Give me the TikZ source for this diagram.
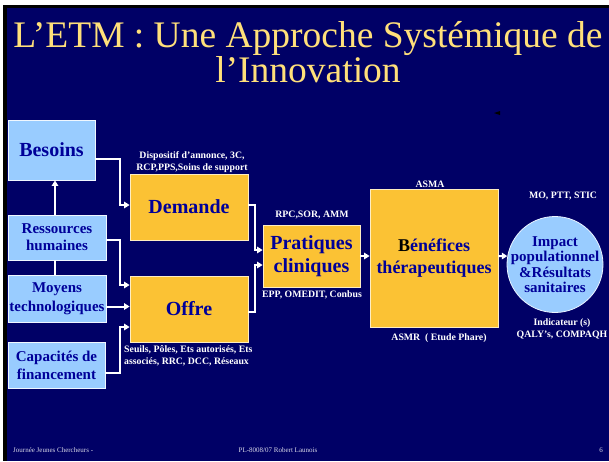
\documentclass[tikz,border=0pt]{standalone}
\usepackage{fontspec}
\setmainfont{Liberation Serif}
\usepackage{xcolor}
\usepackage{tikz}
\usetikzlibrary{shapes,arrows.meta}
\definecolor{slidenavy}{HTML}{000066}
\definecolor{titleyellow}{HTML}{FFE07A}
\definecolor{boxorange}{HTML}{FBC234}
\definecolor{boxblue}{HTML}{99CCFF}
\definecolor{inkblue}{HTML}{000099}
\tikzset{
  bluebox/.style={draw=white!85!boxblue, line width=0.8pt, fill=boxblue, text=inkblue,
    font=\fontsize{15}{17}\selectfont\bfseries, align=center, inner sep=0pt},
  orangebox/.style={draw=white!70!boxorange, line width=0.8pt, fill=boxorange, text=inkblue,
    font=\fontsize{20}{23}\selectfont\bfseries, align=center, inner sep=0pt},
  note/.style={text=white, font=\fontsize{9.8}{12}\selectfont\bfseries, align=center, inner sep=0pt},
  arr/.style={draw=white, line width=2pt, -{Triangle[length=5.5pt,width=6.5pt]}},
  link/.style={draw=white, line width=2pt}
}
\begin{document}
\begin{tikzpicture}[x=1pt,y=-1pt]
      % Slide background
      \useasboundingbox (0,0) rectangle (609,461);
      \fill[white] (0,0) rectangle (609,461);
      \fill[black] (3,5) rectangle (609,461);
      \fill[slidenavy] (7,8) rectangle (609,461);
      \node[text=titleyellow, font=\fontsize{37.5}{28}\selectfont, align=center, inner sep=0pt] (title) at (308,52)
        {L'ETM : Une Approche Systémique de\\l'Innovation};

      % Left column: needs and resources
      \node[bluebox, minimum width=87, minimum height=60, font=\fontsize{20}{23}\selectfont\bfseries] (besoins) at (51.5,150) {Besoins};
      \node[bluebox, minimum width=98, minimum height=45] (rh) at (57,237.5) {Ressources\\humaines};
      \node[bluebox, minimum width=98, minimum height=47, font=\fontsize{15}{19}\selectfont\bfseries] (moyens) at (57,298.5) {Moyens\\technologiques};
      \node[bluebox, minimum width=97, minimum height=46, font=\fontsize{15}{18}\selectfont\bfseries] (capacites) at (56.5,365) {Capacités de\\financement};

      % Demand and supply
      \node[orangebox, minimum width=118, minimum height=66] (demande) at (189,207) {Demande};
      \node[orangebox, minimum width=118, minimum height=66] (offre) at (189,309) {Offre};
      \node[note] (demandenote) at (192,162) {Dispositif d'annonce, 3C,\\RCP,PPS,Soins de support};
      \node[note, align=left, anchor=north west] (offrenote) at (124,345) {Seuils, Pôles, Ets autorisés, Ets\\associés, RRC, DCC, Réseaux};

      % Practices and benefits
      \node[orangebox, minimum width=97, minimum height=62] (pratiques) at (311.5,256) {Pratiques\\cliniques};
      \node[note] (pratiquesnote) at (312,215) {RPC,SOR, AMM};
      \node[note] (pratiquesbas) at (312,295) {EPP, OMEDIT, Conbus};
      \node[orangebox, minimum width=128, minimum height=138, font=\fontsize{18}{22}\selectfont\bfseries] (benefices) at (434,258)
        {{\color{black}B}énéfices\\thérapeutiques};
      \node[note] (asma) at (430,184) {ASMA};
      \node[note] (asmr) at (439,338) {ASMR \ ( Etude Phare)};

      % Population impact
      \node[circle, draw=white!80!boxblue, line width=0.8pt, fill=boxblue, minimum size=96, inner sep=0pt] (impact) at (555,264.5) {};
      \node[text=inkblue, font=\fontsize{15}{15.5}\selectfont\bfseries, align=center, inner sep=0pt] (impacttext) at (impact) {Impact\\populationnel\\\&Résultats\\sanitaires};
      \node[note] (impactnote) at (563,196) {MO, PTT, STIC};
      \node[note] (indicnote) at (562,329) {Indicateur (s)\\QALY's, COMPAQH};

      % Connectors
      \draw[arr] ([xshift=-2pt]rh.north) -- ([xshift=-2pt]rh.north |- besoins.south);
      \draw[link] ([xshift=-2pt]moyens.north) -- ([xshift=-2pt]rh.south);
      \draw[arr] ([yshift=-9pt]besoins.east) -- ++(25,0) |- ([yshift=2pt]demande.west);
      \draw[arr] ([yshift=-2.5pt]rh.east) -- ++(14,0) |- ([yshift=24pt]offre.west);
      \draw[arr] ([yshift=-8pt]moyens.east) -- ([yshift=-8pt]moyens.east -| offre.west);
      \draw[arr] ([yshift=-8pt]capacites.east) -- ++(15,0) |- ([yshift=-18pt]offre.west);
      \draw[arr] ([yshift=2pt]demande.east) -- ++(7,0) |- ([yshift=6pt]pratiques.west);
      \draw[arr] ([yshift=-3pt]offre.east) -- ++(7,0) |- ([yshift=-9pt]pratiques.west);
      \draw[arr] (pratiques.east) -- (pratiques.east -| benefices.west);
      \draw[arr] ([yshift=2pt]benefices.east) -- (impact.170);

      % Small marker
      \fill[black] (500,111) -- (494,113) -- (500,115) -- cycle;

      % Footer
      \node[text=white!85!slidenavy, font=\fontsize{7}{8}\selectfont, anchor=west, inner sep=0pt] (footleft) at (13,450) {Journée Jeunes Chercheurs -};
      \node[text=white!85!slidenavy, font=\fontsize{7}{8}\selectfont, inner sep=0pt] (footmid) at (278,450) {PL-8008/07 Robert Launois};
      \node[text=white!85!slidenavy, font=\fontsize{7}{8}\selectfont, inner sep=0pt] (footright) at (601,450) {6};
    \end{tikzpicture}
\end{document}
